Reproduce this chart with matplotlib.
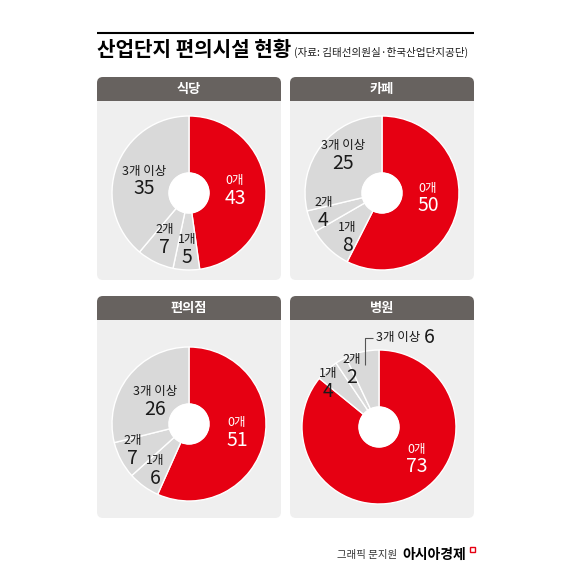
import matplotlib

matplotlib.use("Agg")
import matplotlib.pyplot as plt
import numpy as np
from matplotlib.patches import FancyBboxPatch, Rectangle, Circle

plt.rcParams["font.family"] = ["Noto Sans CJK KR", "DejaVu Sans"]

TITLE = "산업단지 편의시설 현황"
SOURCE = "(자료: 김태선의원실·한국산업단지공단)"
CREDIT = "그래픽 문지원"
BRAND = "아시아경제"

categories = ["0개", "1개", "2개", "3개 이상"]
facilities = ["식당", "카페", "편의점", "병원"]
restaurant = [43, 5, 7, 35]
cafe = [50, 8, 4, 25]
store = [51, 6, 7, 26]
hospital = [73, 4, 2, 6]

RED = "#e60012"
GRAY = "#d9d9d9"
PANEL = "#efefef"
HEADER = "#67625f"
INK = "#1a1a1a"

W = H = 571
R = 77  # outer radius in px

# panel boxes in px: x0, y_top, x1, y_bottom
panels = [(97, 77, 281, 280), (290, 77, 474, 280), (97, 296, 281, 518), (290, 296, 474, 518)]
centers = [(189, 193), (382, 193), (189, 424), (379, 427)]
# per label: (radius, angle tweak in degrees); None = outside label with leader
label_layout = [
    [(0.60, 0), (0.73, 0), (0.68, -2), (0.60, 4)],
    [(0.60, 8), (0.73, 5), (0.80, -4), (0.71, -6)],
    [(0.63, 2.5), (0.74, 0), (0.81, -3.5), (0.53, 4)],
    [(0.64, 25), (0.87, 6.6), (0.83, -4.6), None],
]


def draw_panel(bg, box, name):
    x0, y0, x1, y1 = box
    hh = 24
    bg.add_patch(FancyBboxPatch((x0, y0), x1 - x0, y1 - y0,
                                boxstyle="round,pad=0,rounding_size=6",
                                facecolor=PANEL, edgecolor="none"))
    bg.add_patch(FancyBboxPatch((x0, y0), x1 - x0, hh,
                                boxstyle="round,pad=0,rounding_size=6",
                                facecolor=HEADER, edgecolor="none"))
    bg.add_patch(Rectangle((x0, y0 + hh / 2), x1 - x0, hh / 2,
                           facecolor=HEADER, edgecolor="none"))
    bg.text((x0 + x1) / 2, y0 + hh / 2, name, color="white", fontsize=9.5,
            fontweight="bold", ha="center", va="center")


def draw_donut(fig, center, values, layout):
    cx, cy = center
    k = 1.5
    ax = fig.add_axes([(cx - R * k) / W, 1 - (cy + R * k) / H, 2 * R * k / W, 2 * R * k / H])
    colors = [RED] + [GRAY] * (len(values) - 1)
    wedges, _ = ax.pie(values, colors=colors, startangle=90, counterclock=False,
                       radius=1, wedgeprops=dict(width=0.74, edgecolor="white", linewidth=1.0))
    ax.add_patch(Circle((0, 0), 0.265, facecolor="white", edgecolor="none"))
    ax.set_xlim(-k, k)
    ax.set_ylim(-k, k)
    ax.axis("off")

    for i, (w, cat, val) in enumerate(zip(wedges, categories, values)):
        mid = (w.theta1 + w.theta2) / 2
        color = "white" if i == 0 else INK
        if layout[i] is None:
            # outside label with an elbow leader
            px, py = 0.83 * np.cos(np.radians(mid)), 0.83 * np.sin(np.radians(mid))
            ty = 1.16
            ax.plot([px, px, px + 0.1], [py, ty, ty], color="#555555", lw=0.8,
                    solid_capstyle="butt")
            t = ax.text(px + 0.14, ty, cat, fontsize=9, color=INK, ha="left", va="center")
            ax.annotate(str(val), xy=(1, 0.5), xycoords=t, xytext=(3, 0),
                        textcoords="offset points", fontsize=14, color=INK,
                        ha="left", va="center")
            continue
        r, dt = layout[i]
        a = np.radians(mid + dt)
        x, y = r * np.cos(a), r * np.sin(a)
        ax.text(x, y + 0.12, cat, fontsize=9, color=color, ha="center", va="center")
        ax.text(x, y - 0.11, str(val), fontsize=14, color=color, ha="center", va="center")


def main() -> None:
    fig = plt.figure(figsize=(W / 100, H / 100), dpi=100)
    bg = fig.add_axes([0, 0, 1, 1])
    bg.set_xlim(0, W)
    bg.set_ylim(H, 0)
    bg.axis("off")

    bg.plot([97, 474], [33, 33], color="black", lw=1.5, solid_capstyle="butt")
    bg.text(97, 49, TITLE, fontsize=14.5, fontweight="heavy", color="black", va="center")
    bg.text(294, 52, SOURCE, fontsize=7.6, color=INK, va="center")

    series = [restaurant, cafe, store, hospital]
    for box, name in zip(panels, facilities):
        draw_panel(bg, box, name)
    for center, vals, layout in zip(centers, series, label_layout):
        draw_donut(fig, center, vals, layout)

    bg.text(397, 555, CREDIT, fontsize=7.5, color="#333333", ha="right", va="center")
    bg.text(402, 555, BRAND, fontsize=10, fontweight="bold", color="black", va="center")
    bg.add_patch(Rectangle((470, 547), 5, 5, fill=False, edgecolor=RED, lw=1))

    fig.savefig("out.png", dpi=100)


if __name__ == "__main__":
    main()
